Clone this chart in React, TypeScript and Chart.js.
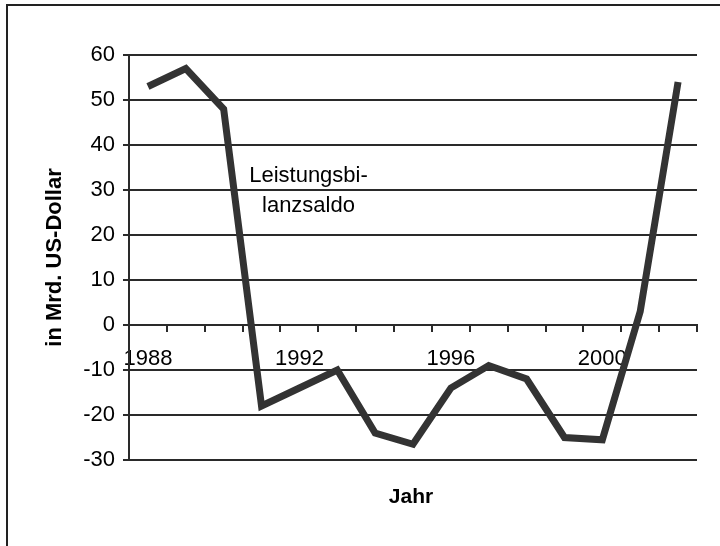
import React, { useEffect, useRef } from 'react';
import { Chart, registerables } from 'chart.js';

Chart.register(...registerables);

const years = ['1988', '1989', '1990', '1991', '1992', '1993', '1994', '1995', '1996', '1997', '1998', '1999', '2000', '2001', '2002'];
const balance = [53, 57, 48, -18, -14, -10, -24, -26.5, -14, -9, -12, -25, -25.5, 3, 54];
const shownYearLabels = ['1988', '1992', '1996', '2000'];
const yMin = -30;
const yMax = 60;
const yStep = 10;
const yAxisTitle = 'in Mrd. US-Dollar';
const xAxisTitle = 'Jahr';
const annotationLines = ['Leistungsbi-', 'lanzsaldo'];

const FONT = '"Liberation Sans", Arial, sans-serif';
const INK = '#000';
const GRID = '#2a2a2a';

const textPlugin = {
  id: 'textOverlay',
  afterDraw(chart: any) {
    const { ctx, chartArea, scales } = chart;
    ctx.save();
    ctx.fillStyle = INK;
    ctx.textAlign = 'center';
    ctx.textBaseline = 'middle';
    ctx.font = `22px ${FONT}`;
    const ax = scales.x.getPixelForValue(4.24);
    ctx.fillText(annotationLines[0], ax, scales.y.getPixelForValue(33.1));
    ctx.fillText(annotationLines[1], ax, scales.y.getPixelForValue(26.4));
    ctx.font = `bold 21px ${FONT}`;
    ctx.fillText(xAxisTitle, (chartArea.left + chartArea.right) / 2 - 2, chartArea.bottom + 37);
    ctx.restore();
  },
};

export default function App() {
  const canvasRef = useRef<HTMLCanvasElement | null>(null);

  useEffect(() => {
    const canvas = canvasRef.current;
    if (!canvas) return;
    const chart = new Chart(canvas, {
      type: 'line',
      data: {
        labels: years,
        datasets: [
          {
            data: balance,
            borderColor: '#333333',
            borderWidth: 7,
            pointRadius: 0,
            tension: 0,
            fill: false,
          },
        ],
      },
      options: {
        responsive: false,
        animation: false,
        events: [],
        layout: { padding: { left: 42, right: 23, top: 55, bottom: 86 } },
        plugins: {
          legend: { display: false },
          tooltip: { enabled: false },
        },
        scales: {
          x: {
            type: 'category',
            position: { y: 0 } as any,
            offset: true,
            grid: {
              offset: true,
              drawOnChartArea: false,
              drawTicks: true,
              tickLength: 6,
              color: GRID,
              lineWidth: 2,
            },
            border: { display: true, color: GRID, width: 2 },
            ticks: {
              autoSkip: false,
              maxRotation: 0,
              minRotation: 0,
              padding: 15,
              color: INK,
              font: { family: FONT, size: 22 },
              callback: (_v: any, i: number) => (shownYearLabels.includes(years[i]) ? years[i] : ''),
            },
            afterFit: (scale: any) => {
              scale.height = 40;
            },
          },
          y: {
            min: yMin,
            max: yMax,
            ticks: {
              stepSize: yStep,
              padding: 8,
              color: INK,
              font: { family: FONT, size: 22 },
            },
            grid: { color: GRID, lineWidth: 2, tickLength: 6, drawTicks: true },
            border: { display: true, color: GRID, width: 2 },
            title: {
              display: true,
              text: yAxisTitle,
              color: INK,
              font: { family: FONT, size: 22, weight: 'bold' },
              padding: 0,
            },
            afterFit: (scale: any) => {
              scale.width = 87;
            },
          },
        },
      },
      plugins: [textPlugin],
    });
    return () => chart.destroy();
  }, []);

  return (
    <div style={{ position: 'absolute', left: 0, top: 0, width: 720, height: 546, background: '#fff', overflow: 'hidden' }}>
      <canvas ref={canvasRef} width={720} height={546} style={{ display: 'block', width: 720, height: 546 }} />
      <div
        style={{
          position: 'absolute',
          left: 6,
          top: 4,
          width: 740,
          height: 560,
          borderLeft: '2px solid #222',
          borderTop: '2px solid #222',
          pointerEvents: 'none',
        }}
      />
    </div>
  );
}
